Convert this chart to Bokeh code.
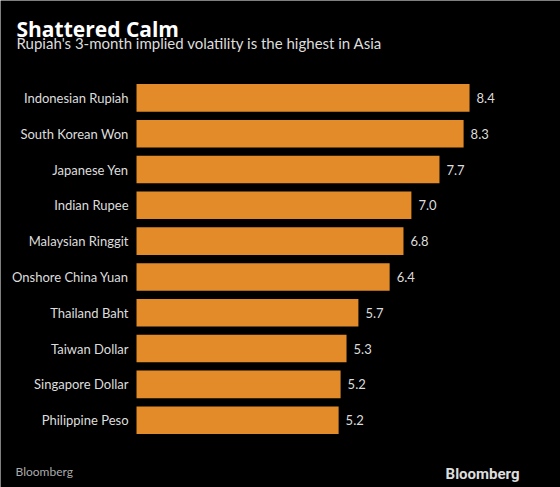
from bokeh.plotting import figure
from bokeh.models import ColumnDataSource, Range1d, Label
from bokeh.embed import file_html
from bokeh.resources import INLINE
from bokeh.core.properties import value

categories = ["Indonesian Rupiah", "South Korean Won", "Japanese Yen", "Indian Rupee",
              "Malaysian Ringgit", "Onshore China Yuan", "Thailand Baht", "Taiwan Dollar",
              "Singapore Dollar", "Philippine Peso"]
values = [8.42, 8.27, 7.66, 6.95, 6.75, 6.40, 5.61, 5.31, 5.16, 5.11]
value_labels = ["8.4", "8.3", "7.7", "7.0", "6.8", "6.4", "5.7", "5.3", "5.2", "5.2"]

BG = "#000000"
BAR = "#E38B29"
TXT = "#DDDDDD"

rank = list(range(len(categories)))
src = ColumnDataSource(dict(cat=categories, val=values, lab=value_labels, rank=rank))

p = figure(width=560, height=487, output_backend="svg", toolbar_location=None,
           x_range=Range1d(-3.439, 10.72), y_range=Range1d(10.88, -2.72),
           x_axis_location=None, y_axis_location=None,
           min_border=0, min_border_left=0, min_border_right=0, min_border_top=0, min_border_bottom=0,
           background_fill_color=BG, border_fill_color=BG, outline_line_color=None)
p.title.visible = False
p.xgrid.visible = False
p.ygrid.visible = False

p.hbar(y="rank", right="val", left=0, height=0.77, source=src, color=BAR, line_color=None)
p.text(x="val", y="rank", text="lab", source=src, x_offset=7, text_baseline="middle",
       text_align="left", text_color=TXT, text_font=value("Lato"), text_font_size="13px")
p.text(x=0, y="rank", text="cat", source=src, x_offset=-8, text_baseline="middle",
       text_align="right", text_color=TXT, text_font=value("Lato"), text_font_size="13px")

p.add_layout(Label(x=16, y=28, x_units="canvas", y_units="canvas", text="Shattered Calm",
                   text_color="#FFFFFF", text_font="Open Sans", text_font_style="bold",
                   text_font_size="21px", text_baseline="alphabetic"))
p.add_layout(Label(x=16, y=42, x_units="canvas", y_units="canvas",
                   text="Rupiah's 3-month implied volatility is the highest in Asia",
                   text_color=TXT, text_font="Lato", text_font_size="15px", text_baseline="alphabetic"))
p.add_layout(Label(x=15, y=471, x_units="canvas", y_units="canvas", text="Bloomberg",
                   text_color="#AAAAAA", text_font="Lato", text_font_size="12px", text_baseline="alphabetic"))
p.add_layout(Label(x=519, y=473, x_units="canvas", y_units="canvas", text="Bloomberg",
                   text_color=TXT, text_font="Roboto", text_font_style="bold", text_font_size="15px",
                   text_baseline="alphabetic", text_align="right"))

open("out.html", "w").write(file_html(p, INLINE))
